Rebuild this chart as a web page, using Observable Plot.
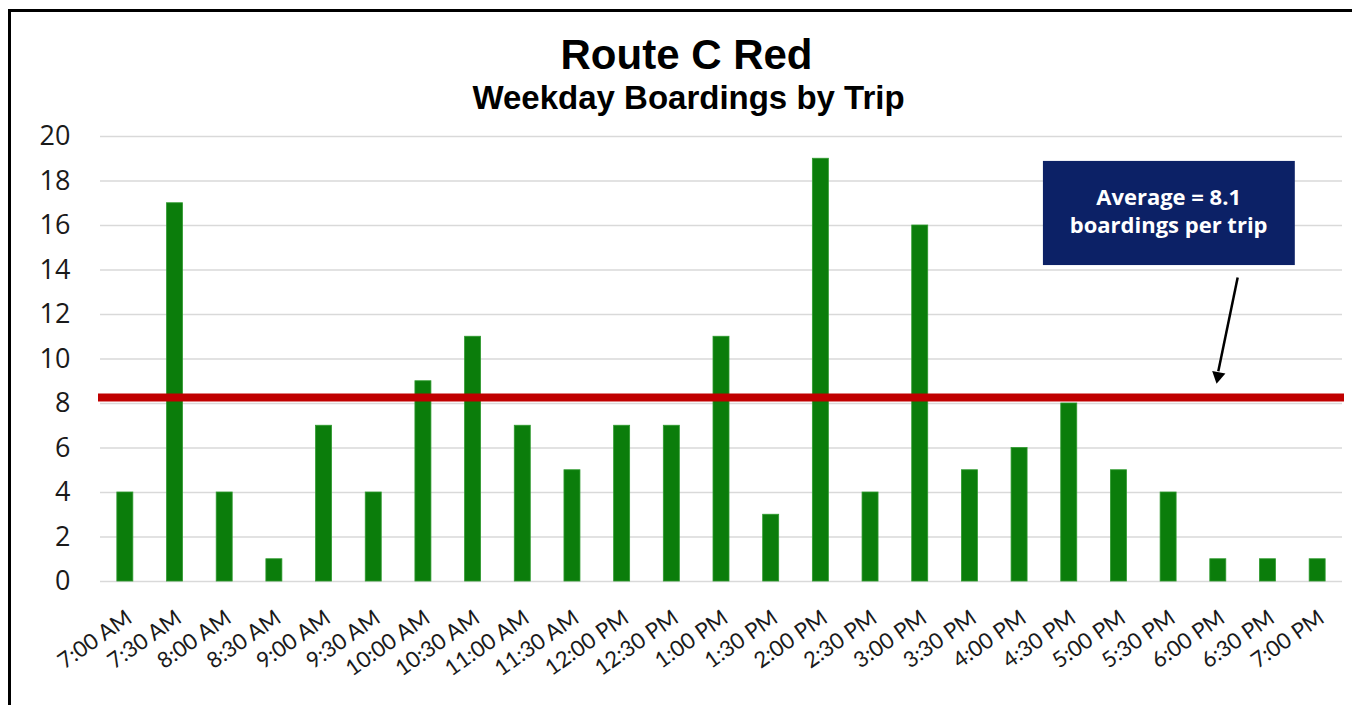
<!DOCTYPE html>
<html><head><meta charset="utf-8">
<script src="https://cdn.jsdelivr.net/npm/d3@7"></script>
<script src="https://cdn.jsdelivr.net/npm/@observablehq/plot@0.6"></script>
<style>
html,body{margin:0;padding:0;background:#fff;}
#wrap{position:relative;width:1352px;height:705px;overflow:hidden;}
#border{position:absolute;left:8px;top:9px;right:-10px;bottom:-10px;border-top:3px solid #000;border-left:3px solid #000;pointer-events:none;}
</style></head><body>
<div id="wrap"><div id="chart"></div><div id="border"></div></div>
<script>
const title = "Route C Red";
const subtitle = "Weekday Boardings by Trip";
const trips = ["7:00 AM","7:30 AM","8:00 AM","8:30 AM","9:00 AM","9:30 AM","10:00 AM","10:30 AM","11:00 AM","11:30 AM","12:00 PM","12:30 PM","1:00 PM","1:30 PM","2:00 PM","2:30 PM","3:00 PM","3:30 PM","4:00 PM","4:30 PM","5:00 PM","5:30 PM","6:00 PM","6:30 PM","7:00 PM"];
const boardings = [4,17,4,1,7,4,9,11,7,5,7,7,11,3,19,4,16,5,6,8,5,4,1,1,1];
const averageLine = 8.27;
const noteLines = ["Average = 8.1", "boardings per trip"];
const yTicks = [0,2,4,6,8,10,12,14,16,18,20];
// annotation placement in data units (x = trip index, y = boardings)
const noteBox = [{x1: 18.48, x2: 23.55, y1: 14.2, y2: 18.88}];
const noteText = [{x: 21.0, y: 17.26, t: noteLines[0]}, {x: 21.0, y: 15.98, t: noteLines[1]}];
const arrowShaft = [{x1: 22.39, y1: 13.66, x2: 22.0, y2: 9.45}];
const arrowHead = [{x: 21.995, y: 9.23}];

const data = trips.map((t, i) => ({i, trip: t, b: boardings[i]}));
const half = 0.161;

const chart = Plot.plot({
  width: 1352, height: 705,
  marginLeft: 100, marginRight: 10, marginTop: 136, marginBottom: 124,
  style: {fontFamily: "Open Sans", background: "transparent"},
  x: {type: "linear", domain: [-0.5, 24.5], axis: null},
  y: {domain: [0, 20], axis: null},
  marks: [
    Plot.gridY(yTicks, {stroke: "#d9d9d9", strokeOpacity: 1, strokeWidth: 1.5}),
    Plot.axisY(yTicks, {tickSize: 0, tickPadding: 30, fontSize: 27, fill: "#1a1a1a", fontFamily: "Open Sans"}),
    Plot.axisX(d3.range(trips.length), {tickFormat: i => trips[i], tickSize: 0, tickRotate: -35, tickPadding: 34, dx: 4, fontSize: 22, fill: "#1a1a1a", fontFamily: "Lato"}),
    Plot.rectY(data, {x1: d => d.i - half, x2: d => d.i + half, y: "b", fill: "#0b7d0b", stroke: "#2f9a2f", strokeWidth: 0.8}),
    Plot.ruleY([averageLine], {stroke: "#c00000", strokeWidth: 8, insetLeft: -2, insetRight: -2}),
    Plot.rect(noteBox, {x1: "x1", x2: "x2", y1: "y1", y2: "y2", fill: "#0c2166"}),
    Plot.text(noteText, {x: "x", y: "y", text: "t", fill: "#fff", fontSize: 22, fontWeight: "bold", fontFamily: "Open Sans"}),
    Plot.link(arrowShaft, {x1: "x1", y1: "y1", x2: "x2", y2: "y2", stroke: "#000", strokeWidth: 2.5}),
    Plot.dot(arrowHead, {x: "x", y: "y", symbol: "triangle", r: 5, rotate: 191, fill: "#000", stroke: "none"}),
    Plot.text([title], {frameAnchor: "top", lineAnchor: "middle", dx: -35, dy: -81, fontSize: 42, fontWeight: "bold", fontFamily: "Liberation Sans", fill: "#000"}),
    Plot.text([subtitle], {frameAnchor: "top", lineAnchor: "middle", dx: -33, dy: -38, fontSize: 33, fontWeight: "bold", fontFamily: "Liberation Sans", fill: "#000"})
  ]
});
document.getElementById("chart").appendChild(chart);
</script>
</body></html>
